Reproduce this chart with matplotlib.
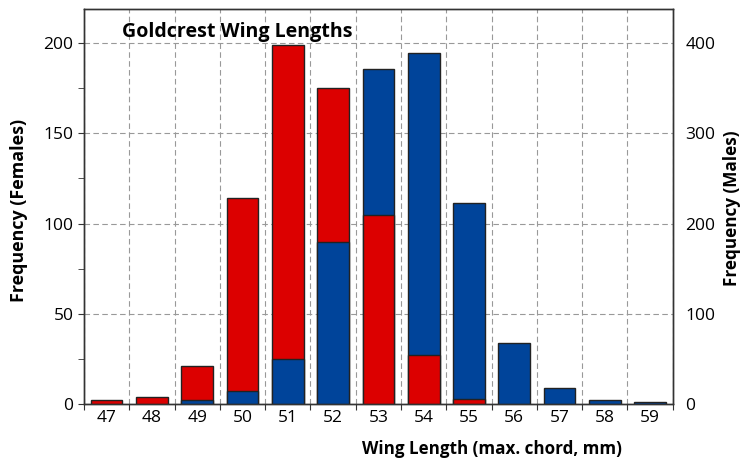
import numpy as np
import matplotlib.pyplot as plt
from matplotlib.ticker import MultipleLocator

plt.rcParams['font.family'] = ['Open Sans', 'DejaVu Sans']

# wing length classes (mm) and counts
wing_lengths = [47, 48, 49, 50, 51, 52, 53, 54, 55, 56, 57, 58, 59]
females = [2, 4, 21, 114, 199, 175, 105, 27, 3, 0, 0, 0, 0]
males = [0, 0, 4, 14, 50, 180, 371, 389, 223, 68, 18, 4, 2]

red = '#dc0000'
blue = '#00449a'
edge = '#222222'

fig = plt.figure(figsize=(7.5, 4.61), dpi=100)
ax = fig.add_axes([0.112, 0.1236, 0.785, 0.8564])
ax2 = ax.twinx()

x = np.arange(len(wing_lengths))
ax.set_xlim(-0.5, len(wing_lengths) - 0.5)
ax.set_ylim(0, 218.8)
ax2.set_ylim(0, 437.6)

# both series drawn on the left axes so the shorter bar can sit in front;
# male bars use the right axis scale via its transform
for i in x:
    f, m = females[i], males[i]
    f_front = f <= m / 2
    if f > 0:
        ax.bar(i, f, width=0.7, color=red, edgecolor=edge, linewidth=1,
               zorder=4 if f_front else 3)
    if m > 0:
        ax.bar(i, m, width=0.7, color=blue, edgecolor=edge, linewidth=1,
               zorder=3 if f_front else 4, transform=ax2.transData)

# grid and ticks
ax.yaxis.set_major_locator(MultipleLocator(50))
ax.yaxis.set_minor_locator(MultipleLocator(25))
ax2.yaxis.set_major_locator(MultipleLocator(100))
ax.set_xticks(np.arange(-0.5, len(wing_lengths), 1))
ax.set_xticklabels([])
ax.set_xticks(x, minor=True)
ax.set_xticklabels([str(w) for w in wing_lengths], minor=True)
ax.tick_params(axis='x', which='major', length=4, color='#333333')
ax.tick_params(axis='x', which='minor', length=0, labelsize=12.5, pad=4)
ax.tick_params(axis='y', which='both', length=4, color='#333333', labelsize=12.5)
ax2.tick_params(axis='y', length=0, labelsize=12.5, pad=9)

ax.grid(True, which='major', linestyle=(0, (5, 3)), color='#999999', linewidth=0.8)
ax.set_axisbelow(True)

for a in (ax, ax2):
    for s in a.spines.values():
        s.set_color('#333333')
        s.set_linewidth(1)

ylab = ax.set_ylabel('Frequency (Females)', fontsize=12, fontweight='bold')
ylab2 = ax2.set_ylabel('Frequency (Males)', fontsize=12, fontweight='bold')
xlab = ax.set_xlabel('Wing Length (max. chord, mm)', fontsize=12.5, fontweight='bold')
title = ax.text(0.261, 0.967, 'Goldcrest Wing Lengths', transform=ax.transAxes,
                ha='center', va='top', fontsize=13, fontweight='bold', zorder=6)

# size the texts to the lengths they have in the original picture
renderer = fig.canvas.get_renderer()
for txt, target, along_y in [(title, 229, False), (xlab, 260, False),
                             (ylab, 183, True), (ylab2, 155, True)]:
    bb = txt.get_window_extent(renderer)
    size = bb.height if along_y else bb.width
    txt.set_fontsize(txt.get_fontsize() * target / size)

ax.xaxis.set_label_coords(0.693, -0.092)
ax.yaxis.set_label_coords(-0.095, 0.49)
ax2.yaxis.set_label_coords(1.085, 0.497)

fig.savefig('out.png', dpi=100)
